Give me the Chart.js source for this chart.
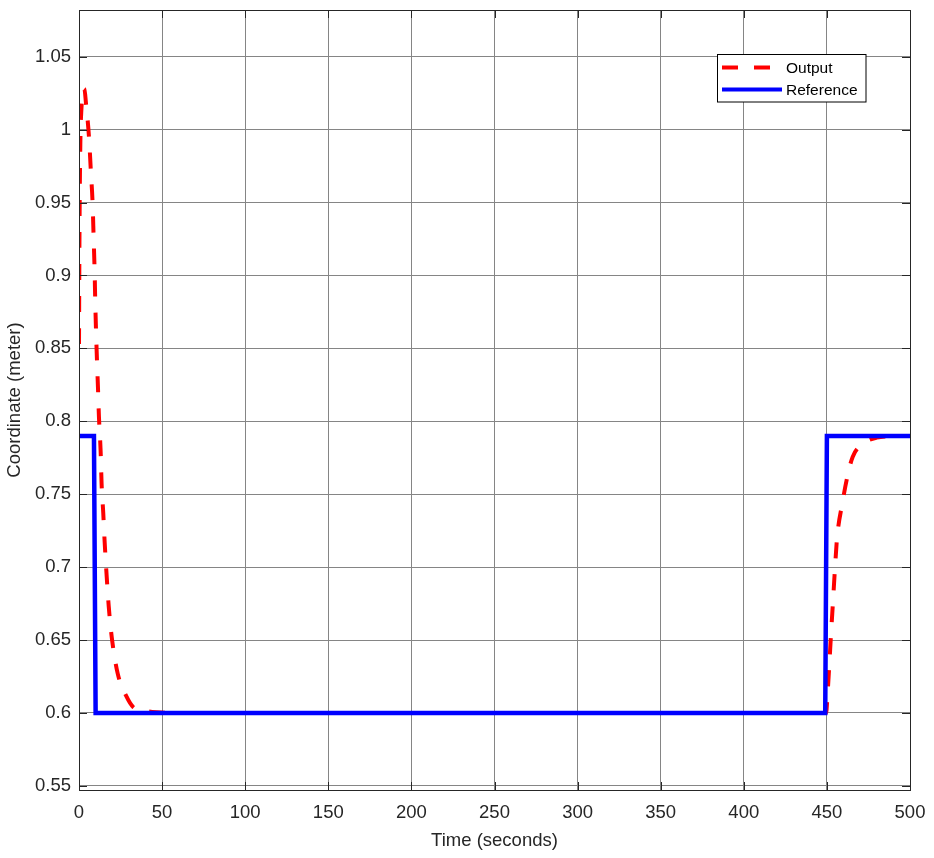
<!DOCTYPE html>
<html>
<head>
<meta charset="utf-8">
<script src="https://cdn.jsdelivr.net/npm/chart.js@4.4.1/dist/chart.umd.min.js"></script>
<style>
  html, body { margin: 0; padding: 0; background: #fff; }
  #wrap { width: 934px; height: 858px; }
</style>
</head>
<body>
<div id="wrap"><canvas id="lineChart" width="934" height="858"></canvas></div>
<script>
// values
var outputTime = [0, 0.3, 0.8, 1.5, 2.5, 3.2, 4.2, 6, 7.2, 8.2, 8.8, 9.4, 9.8, 10.6, 11.4, 12, 13, 13.6, 14.6, 15.4, 16.7, 17.9, 19.7, 23.3, 28.7, 32.7, 40, 46.8, 55, 449.5, 450.5, 451.4, 452.5, 453.7, 454.9, 456.1, 459.3, 462.3, 465.5, 471.9, 479.9, 490, 500];
var outputValue = [0.853, 0.93, 0.99, 1.015, 1.027, 1.028, 1.018, 0.995, 0.97, 0.949, 0.926, 0.903, 0.881, 0.849, 0.8235, 0.803, 0.78, 0.757, 0.737, 0.718, 0.693, 0.673, 0.652, 0.627, 0.611, 0.604, 0.6015, 0.6005, 0.6, 0.6, 0.615, 0.632, 0.6546, 0.677, 0.700, 0.72, 0.744, 0.762, 0.7756, 0.7847, 0.7888, 0.7898, 0.79];
var refTime = [0, 9, 10, 449, 450, 500];
var refValue = [0.79, 0.79, 0.6, 0.6, 0.79, 0.79];

var xTicks = [0, 50, 100, 150, 200, 250, 300, 350, 400, 450, 500];
var yTicks = [0.55, 0.6, 0.65, 0.7, 0.75, 0.8, 0.85, 0.9, 0.95, 1, 1.05];

function toPoints(xs, ys) {
    return xs.map(function (x, i) { return {x: x, y: ys[i]}; });
}

var tickFont = {family: "'Liberation Sans', Arial, sans-serif", size: 18.5};
var axisColor = '#262626';

// box round the plot + inward ticks, like matlab
var boxPlugin = {
    id: 'box',
    afterDatasetsDraw: function (chart) {
        var ctx = chart.ctx, a = chart.chartArea;
        var xs = chart.scales.x, ys = chart.scales.y;
        ctx.save();
        ctx.strokeStyle = axisColor;
        ctx.lineWidth = 1;
        ctx.beginPath();
        xTicks.forEach(function (v) {
            var px = Math.round(xs.getPixelForValue(v)) + 0.5;
            ctx.moveTo(px, a.bottom); ctx.lineTo(px, a.bottom - 8);
            ctx.moveTo(px, a.top); ctx.lineTo(px, a.top + 8);
        });
        yTicks.forEach(function (v) {
            var py = Math.round(ys.getPixelForValue(v)) + 0.5;
            ctx.moveTo(a.left, py); ctx.lineTo(a.left + 8, py);
            ctx.moveTo(a.right, py); ctx.lineTo(a.right - 8, py);
        });
        ctx.stroke();
        ctx.strokeRect(Math.round(a.left) + 0.5, Math.round(a.top) + 0.5,
            Math.round(a.right - a.left), Math.round(a.bottom - a.top));
        ctx.restore();
    }
};

// legend box in the top right corner
var legendPlugin = {
    id: 'boxLegend',
    afterDraw: function (chart) {
        var ctx = chart.ctx;
        var items = chart.data.datasets;
        ctx.save();
        ctx.fillStyle = '#fff';
        ctx.fillRect(717.5, 54.5, 148.5, 47.5);
        ctx.strokeStyle = '#000';
        ctx.lineWidth = 1;
        ctx.strokeRect(717.5, 54.5, 148.5, 47.5);
        ctx.font = "15.5px 'Liberation Sans', Arial, sans-serif";
        ctx.textBaseline = 'middle';
        items.forEach(function (ds, i) {
            var y = 67.5 + i * 22;
            ctx.strokeStyle = ds.borderColor;
            ctx.lineWidth = 4;
            ctx.setLineDash(ds.borderDash || []);
            ctx.beginPath();
            ctx.moveTo(722, y);
            ctx.lineTo(ds.borderDash ? 770 : 782, y);
            ctx.stroke();
            ctx.setLineDash([]);
            ctx.fillStyle = '#000';
            ctx.fillText(ds.label, 786, y + 1.5);
        });
        ctx.restore();
    }
};

var data = {
    datasets: [
        {
            label: 'Output',
            data: toPoints(outputTime, outputValue),
            borderColor: '#ff0000',
            borderWidth: 4,
            borderDash: [16, 16],
            pointRadius: 0,
            cubicInterpolationMode: 'monotone',
            order: 2
        },
        {
            label: 'Reference',
            data: toPoints(refTime, refValue),
            borderColor: '#0000ff',
            borderWidth: 4.5,
            pointRadius: 0,
            tension: 0,
            order: 1
        }
    ]
};

var options = {
    responsive: false,
    animation: false,
    devicePixelRatio: 1,
    layout: {padding: {left: 0, right: 24, top: 10, bottom: 0}},
    plugins: {
        legend: {display: false},
        tooltip: {enabled: false}
    },
    scales: {
        x: {
            type: 'linear',
            min: 0,
            max: 500,
            afterFit: function (s) { s.height = 68; s.paddingLeft = 0; s.paddingRight = 0; },
            afterBuildTicks: function (s) { s.ticks = xTicks.map(function (v) { return {value: v}; }); },
            ticks: {color: axisColor, font: tickFont, padding: 12, maxRotation: 0},
            grid: {color: '#858585', drawTicks: false},
            border: {display: false},
            title: {display: true, text: 'Time (seconds)', color: axisColor, font: tickFont, padding: {top: 0, bottom: 6}}
        },
        y: {
            type: 'linear',
            min: 0.5472,
            max: 1.082,
            afterFit: function (s) { s.width = 79; s.paddingTop = 0; s.paddingBottom = 0; },
            afterBuildTicks: function (s) { s.ticks = yTicks.map(function (v) { return {value: v}; }); },
            ticks: {
                color: axisColor, font: tickFont, padding: 8,
                callback: function (v) { return String(Number(v.toFixed(2))); }
            },
            grid: {color: '#858585', drawTicks: false},
            border: {display: false},
            title: {display: true, text: 'Coordinate (meter)', color: axisColor, font: tickFont, padding: {top: 4, bottom: 0}}
        }
    }
};

var lineChart = new Chart(document.getElementById('lineChart'), {
    type: 'line',
    data: data,
    options: options,
    plugins: [boxPlugin, legendPlugin]
});
</script>
</body>
</html>
